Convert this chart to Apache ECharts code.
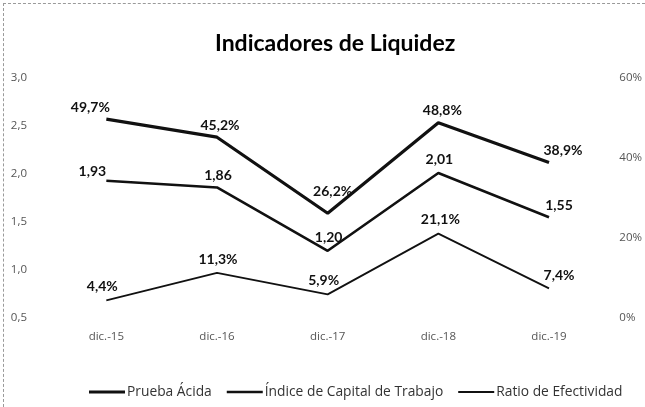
<!DOCTYPE html>
<html>
<head>
<meta charset="utf-8">
<script src="https://cdn.jsdelivr.net/npm/echarts@6/dist/echarts.min.js"></script>
<style>
html, body { margin: 0; padding: 0; background: #fff; }
.caja {
  position: relative;
  width: 645px;
  height: 407px;
}
.marco {
  position: absolute;
  left: 3px; top: 3px; right: 0; bottom: 0;
  border-left: 1px dashed #9a9a9a;
  border-top: 1px dashed #9a9a9a;
}
#grafico { position: absolute; left: 0; top: 0; width: 645px; height: 407px; }
</style>
</head>
<body>
<div class="caja">
  <div class="marco"></div>
  <div id="grafico"></div>
</div>
<script>
// datos
var categorias = ['dic.-15', 'dic.-16', 'dic.-17', 'dic.-18', 'dic.-19'];
var pruebaAcida = [49.7, 45.2, 26.2, 48.8, 38.9];       // % (eje derecho)
var capitalTrabajo = [1.93, 1.86, 1.20, 2.01, 1.55];    // eje izquierdo
var ratioEfectividad = [4.4, 11.3, 5.9, 21.1, 7.4];     // % (eje derecho)

// desplazamiento de etiquetas (solo estilo)
var offPrueba = [[-16, 0], [3, 0], [5, -10], [4, 0], [14, 0]];
var offCapital = [[-14, 3], [1, 0], [1, -1], [1, -2], [10, 0]];
var offRatio = [[-4, -2], [1, -1], [-4, -2], [2, -2], [10, -1]];

function coma(v, d) { return v.toFixed(d).replace('.', ','); }

function armar(valores, offs) {
  return valores.map(function (v, i) {
    return { value: v, label: { offset: offs[i] } };
  });
}

var etiqueta = {
  show: true,
  position: 'top',
  distance: 5,
  color: '#111',
  fontFamily: 'Lato',
  fontWeight: 'bold',
  fontSize: 14
};

var ejeTexto = { color: '#555', fontSize: 11.5, fontFamily: 'Open Sans' };

var myChart = echarts.init(document.getElementById('grafico'));
var option = {
  animation: false,
  textStyle: { fontFamily: 'Lato' },
  title: {
    text: 'Indicadores de Liquidez',
    left: 210,
    top: 27,
    textStyle: { fontFamily: 'Lato', fontWeight: 'bold', fontSize: 23, color: '#000' }
  },
  legend: {
    left: 84,
    top: 380,
    itemWidth: 36,
    itemHeight: 8,
    itemGap: 15,
    textStyle: { fontFamily: 'Open Sans', fontSize: 13.8, color: '#333', padding: [0, 0, 0, -3] },
    data: [
      { name: 'Prueba Ácida', icon: 'path://M0,0H36V3.2H0Z' },
      { name: 'Índice de Capital de Trabajo', icon: 'path://M0,0H36V2.6H0Z' },
      { name: 'Ratio de Efectividad', icon: 'path://M0,0H36V1.8H0Z' }
    ]
  },
  grid: { left: 51, right: 37, top: 78, bottom: 89 },
  xAxis: {
    type: 'category',
    data: categorias,
    axisLine: { show: false },
    axisTick: { show: false },
    axisLabel: Object.assign({ margin: 13 }, ejeTexto)
  },
  yAxis: [
    {
      type: 'value',
      min: 0.5, max: 3.0, interval: 0.5,
      splitLine: { show: false },
      axisLine: { show: false },
      axisTick: { show: false },
      axisLabel: Object.assign({ margin: 24,
        formatter: function (v) { return coma(v, 1); } }, ejeTexto)
    },
    {
      type: 'value',
      min: 0, max: 60, interval: 20,
      splitLine: { show: false },
      axisLine: { show: false },
      axisTick: { show: false },
      axisLabel: Object.assign({ margin: 15,
        formatter: function (v) { return v + '%'; } }, ejeTexto)
    }
  ],
  series: [
    {
      name: 'Prueba Ácida',
      type: 'line',
      yAxisIndex: 1,
      symbol: 'circle',
      symbolSize: 0,
      showSymbol: true,
      lineStyle: { color: '#111', width: 3.2 },
      itemStyle: { color: '#111' },
      label: Object.assign({}, etiqueta, { formatter: function (p) { return coma(p.value, 1) + '%'; } }),
      data: armar(pruebaAcida, offPrueba)
    },
    {
      name: 'Índice de Capital de Trabajo',
      type: 'line',
      yAxisIndex: 0,
      symbol: 'circle',
      symbolSize: 0,
      showSymbol: true,
      lineStyle: { color: '#111', width: 2.6 },
      itemStyle: { color: '#111' },
      label: Object.assign({}, etiqueta, { formatter: function (p) { return coma(p.value, 2); } }),
      data: armar(capitalTrabajo, offCapital)
    },
    {
      name: 'Ratio de Efectividad',
      type: 'line',
      yAxisIndex: 1,
      symbol: 'circle',
      symbolSize: 0,
      showSymbol: true,
      lineStyle: { color: '#111', width: 1.8 },
      itemStyle: { color: '#111' },
      label: Object.assign({}, etiqueta, { formatter: function (p) { return coma(p.value, 1) + '%'; } }),
      data: armar(ratioEfectividad, offRatio)
    }
  ]
};
myChart.setOption(option);
</script>
</body>
</html>
